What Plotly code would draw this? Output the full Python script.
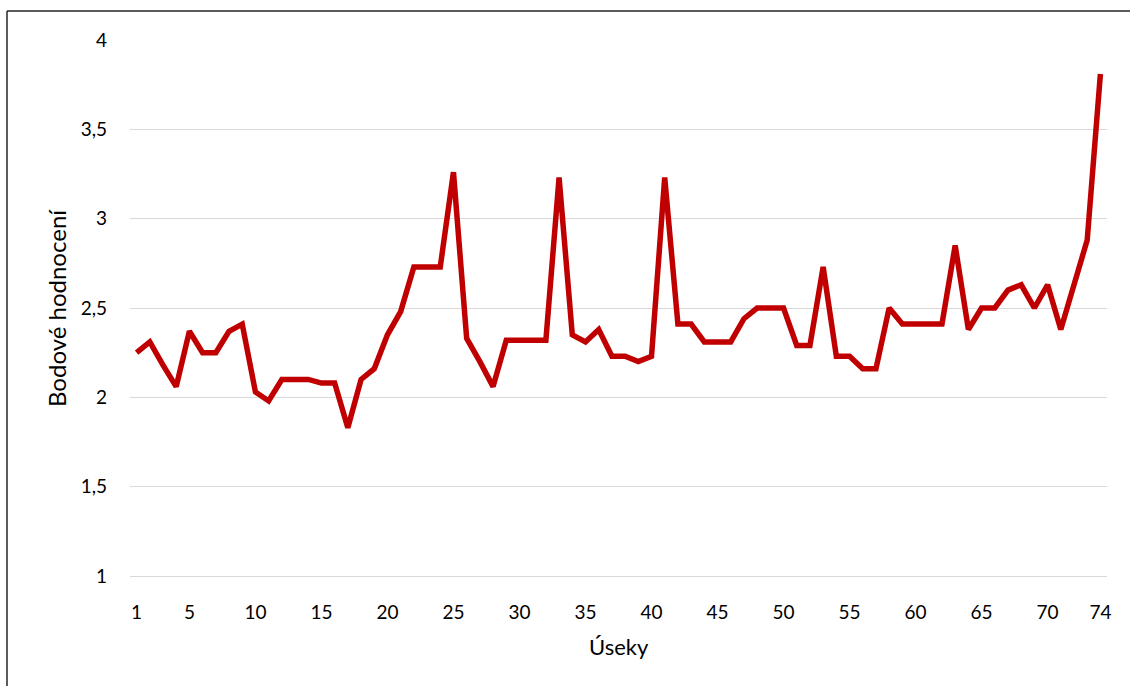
import plotly.graph_objects as go

# Úseky (sections) and their scores
useky = list(range(1, 75))
hodnoceni = [
    2.25, 2.31, 2.18, 2.06, 2.37, 2.25, 2.25, 2.37, 2.41, 2.03,
    1.98, 2.10, 2.10, 2.10, 2.08, 2.08, 1.83, 2.10, 2.16, 2.35,
    2.48, 2.73, 2.73, 2.73, 3.26, 2.33, 2.20, 2.06, 2.32, 2.32,
    2.32, 2.32, 3.23, 2.35, 2.31, 2.38, 2.23, 2.23, 2.20, 2.23,
    3.23, 2.41, 2.41, 2.31, 2.31, 2.31, 2.44, 2.50, 2.50, 2.50,
    2.29, 2.29, 2.73, 2.23, 2.23, 2.16, 2.16, 2.50, 2.41, 2.41,
    2.41, 2.41, 2.85, 2.38, 2.50, 2.50, 2.60, 2.63, 2.50, 2.63,
    2.38, 2.63, 2.88, 3.81,
]

x_ticks = [1, 5, 10, 15, 20, 25, 30, 35, 40, 45, 50, 55, 60, 65, 70, 74]
y_ticks = [1, 1.5, 2, 2.5, 3, 3.5, 4]

FONT = "Lato, 'Open Sans', sans-serif"
GRID = "#D9D9D9"
W, H = 1130, 686
ML, MR, MT, MB = 130, 23, 40, 110
PW, PH = W - ML - MR, H - MT - MB


def px_x(p):
    return (p - ML) / PW


def px_y(p):
    return (H - MB - p) / PH


fig = go.Figure()
fig.add_trace(go.Scatter(
    x=useky, y=hodnoceni, mode="lines",
    line=dict(color="#C00000", width=5.5, shape="linear"),
    showlegend=False,
))

fig.update_layout(
    width=W, height=H,
    margin=dict(l=ML, r=MR, t=MT, b=MB, pad=0),
    paper_bgcolor="white", plot_bgcolor="white",
    separators=", ",
    font=dict(family=FONT, size=19, color="#000000"),
    xaxis=dict(
        range=[0.5, 74.5], tickmode="array", tickvals=x_ticks,
        showgrid=False, zeroline=False,
        showline=True, linecolor=GRID, linewidth=1, ticks="",
        ticklabelstandoff=19, tickfont=dict(size=19, color="#000000"),
    ),
    yaxis=dict(
        range=[1, 4], tickmode="array", tickvals=y_ticks,
        showgrid=True, gridcolor=GRID, gridwidth=1,
        zeroline=False, showline=False, ticks="",
        ticklabelstandoff=22, tickfont=dict(size=19, color="#000000"),
    ),
    annotations=[
        dict(text="Úseky", xref="paper", yref="paper",
             x=0.5, y=px_y(646), xanchor="center", yanchor="middle",
             showarrow=False, font=dict(size=22, color="#000000")),
        dict(text="Bodové hodnocení", xref="paper", yref="paper",
             x=px_x(56), y=0.5, xanchor="center", yanchor="middle",
             textangle=-90, showarrow=False,
             font=dict(size=24, color="#000000")),
    ],
    shapes=[
        dict(type="line", xref="paper", yref="paper",
             x0=px_x(7), x1=px_x(7), y0=px_y(11), y1=px_y(700),
             line=dict(color="#262626", width=1.5)),
        dict(type="line", xref="paper", yref="paper",
             x0=px_x(7), x1=px_x(1140), y0=px_y(11), y1=px_y(11),
             line=dict(color="#262626", width=1.5)),
    ],
)

fig.write_html("out.html")
